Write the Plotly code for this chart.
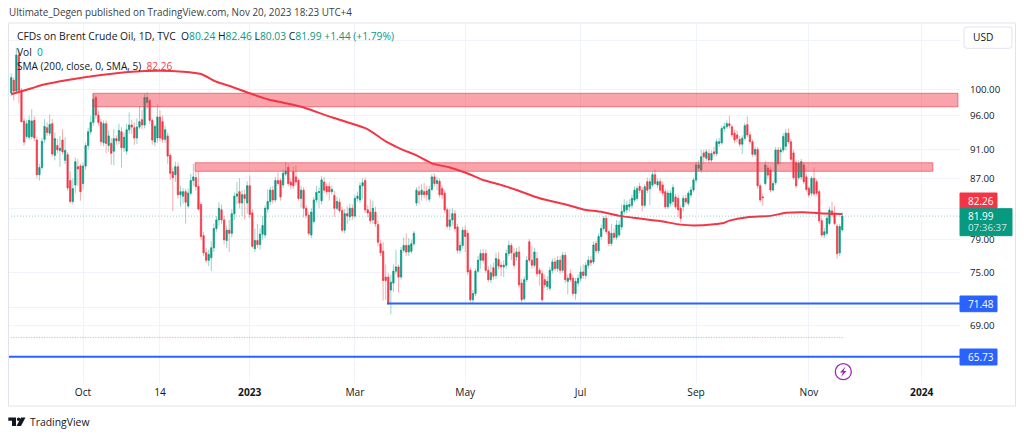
import plotly.graph_objects as go

# daily Brent bars, one value per business day from late Aug 2022
opens = [99.5,101.5,99.8,105.6,99.9,95.2,92.9,92.8,92.9,95.3,
92.4,87.5,88.5,92.5,94.2,93.4,94.8,90.2,91.6,90.9,
92.4,89.5,90.3,86.7,83.9,86.1,88.6,88.7,86.3,88.7,
91.6,93.6,95,98.8,96.1,95,92,94.8,91.6,91.9,
90.8,92.6,92.3,93.6,91.3,90.8,93.9,94.6,94.2,92.7,
94.3,95.4,94.6,98,98.3,95.3,92.1,92.7,95.8,95.1,
92.5,93,90.2,87.9,87.5,88.6,84.8,84.6,85.2,83.3,
85,86.7,87.1,85.9,83.5,79.5,77.4,76.5,76.8,78,
80.4,81.5,82.8,81.5,78.9,80.2,79.8,82.3,84.6,85.2,
83.7,84.8,83.7,86,82.4,77.9,78.9,78.4,79.7,79.6,
82.9,83.9,85.4,84.1,86.7,86.7,86.1,87.6,88.5,86.5,
87.9,87.2,86.7,84.3,85.4,83,82.1,79.6,81.3,84.1,
85.1,84,86.5,85.9,85.9,85.2,84.7,83,83.8,82.7,
80.2,82.3,81.9,83,82,84.3,84.1,86,86.7,82.8,
82.5,81.5,82.5,80.9,78.5,77.6,74.5,74.5,73,73.8,
75.2,75.7,74.5,77.7,78.3,77.5,77.6,78.5,83.7,85.2,
84.8,85.2,85.3,84.2,85.5,87.2,86.3,86.6,85.6,85,
82.8,80.7,81.5,82.3,80.6,77.7,78.3,80.2,79.8,75.3,
71.9,72.6,75.2,76.5,77.3,77.3,75.3,74.2,75.6,74.7,
76.6,75.9,75.7,75.9,77.3,78.3,77.3,76.9,77.5,73.8,
72,74.2,78.75,76.5,75.9,76.7,75.3,74.9,74.2,73.4,
73.2,75.3,76.3,75.5,76.5,75.3,77.1,74,74.9,74.35,
72.6,73.8,74.35,75.1,74.7,75.9,76.5,76.3,78.55,77.65,
79.4,80.4,81.7,80,78.55,79.8,79.3,79.6,80.6,82.6,
82.8,83.2,83.4,84.1,84.3,85.9,85.4,83.4,86.55,85.6,
86.1,87.5,86.1,86.55,86.1,85.2,83.2,83.65,83.9,84.5,
84.3,83,83.2,84.3,83.65,84.75,85.42,86.77,88.4,88.15,
90.55,89.8,90.45,89.54,90.7,90.45,91.9,92,94.1,94.35,
94.8,94.35,93.4,93.15,92.5,91.8,92.65,94.65,93.15,92.15,
90.35,91.05,86,84.5,86.3,88.4,88.15,85.42,86.4,90.96,
90.7,90.96,91.5,93.4,92.15,90.55,89.15,87.1,87.2,88.85,
87.2,85.65,85,87,86.55,85.2,81.4,79.6,79.8,81.05,
82.65,82.35,80.7,77.4,80.24]
highs = [102.6,102,106.8,106.5,100.3,95.6,95.4,96,97,95.9,
92.9,89,92.7,95.5,95,96.2,95.5,93.5,92.6,93,
94,92.8,90.7,88,87,89.9,89.7,89,89.2,92,
94.2,96,99.4,99.1,96.8,95.5,95.3,95.3,93.9,92.7,
94,93.1,94.8,94.3,93.5,94.8,96.5,95.4,95,95.6,
97.5,96.9,99.4,99.6,98.6,95.6,94.7,97.7,96.8,96,
94.5,93.5,90.5,88.5,89.3,89.2,86,85.7,85.6,85.6,
87.6,89,88,88,83.8,80,78,77.8,78.8,81,
82,83.8,83.5,82,80.8,81.5,82.9,85.1,86.5,87,
85.4,85.5,86.6,87.4,82.9,80.4,81,80.4,82,83.4,
85.5,85.9,86,87.2,87.8,87,88.2,89.3,89,87,
88.6,88.8,87,86,85.8,83.4,82.5,83,84.5,86,
85.8,87.3,87.2,86.3,86.5,86,85.3,84.5,84.3,83.2,
82.9,83.3,83.6,83.5,84.8,85.2,86.5,87,87.1,83.4,
84.2,84,83.2,81.4,79,78.7,76,75,74.7,76,
77.8,76,78.1,79.3,79.8,79.2,79,80.1,85.8,86,
86.2,86.4,86,86,87.6,87.7,87.2,87,86,85.4,
83.1,82.9,83,82.8,81,78.8,80.6,80.8,80.2,75.6,
73,75.5,77,77.8,77.9,77.8,75.8,76,76.2,77.4,
77.5,76.3,76.5,77.8,78.9,78.6,78,78,78.2,74.3,
74.6,77,79.1,78.2,78,77.5,75.6,75.3,74.8,74.6,
75.7,76.7,76.8,77,77,77.5,77.5,74.8,75.4,74.8,
74.4,74.8,75.8,76,76.3,77,77,78.8,78.9,79.8,
80.9,82,82.1,80.3,81,80.4,81.5,81.4,83.5,84.2,
84,84.2,84.8,85.9,86,86.4,85.8,86.2,87.1,87,
87.9,88.2,87,87,86.6,85.6,85.4,85.4,86.2,84.9,
84.8,83.4,84.7,84.8,85.3,85.9,87.1,89.3,89.5,91,
91,91.1,91,90.9,91.4,92.6,92.7,94.5,95,95.3,
96,94.7,93.9,93.8,93,93.1,94.9,95.9,93.6,92.5,
91.5,91.4,86.3,85,89.4,88.8,88.6,86.7,91.4,91.4,
91.4,93.4,94,94.1,92.6,91,89.5,89.5,89.7,89.2,
87.6,86,87.3,88.5,86.9,85.5,81.8,80.5,82.1,83.2,
83.9,83.3,81,81,82.46]
lows = [99,98.3,99.3,97.9,95,91.6,92.6,92.4,92.5,92.2,
87,86.7,88.2,92,93,93,90,89.5,90.5,88.6,
90.3,89,85.3,83.6,83.5,85,86,84,85.5,88.2,
91,93.2,94.5,95.5,94.5,91.6,91.5,90.5,90.7,88.9,
88.8,91.7,91.8,88.5,90.7,90.3,93.3,93.3,91.7,91.8,
94,94,94.1,97,94.8,91.7,91.5,92,92.2,92,
92,89,86.8,82.6,86.5,84.3,83.2,83.6,81,83,
84.7,86,85.3,82.7,79,77,76.2,75.8,75.2,77.5,
80,80.8,81,78.4,78,77.5,79.3,81.5,83.5,83,
82,81.6,82.3,81.7,78,77.5,78,77.8,79,79.2,
82.4,83.4,83.6,83.8,86,84,85.7,87.3,85.9,85.5,
85.6,86,84,83.1,81.8,81.7,79.5,79.2,81,83.7,
83,83.5,85,84.8,84,84.8,81.9,82.7,82.4,79.9,
79.8,81,81.4,81.5,81.7,83.9,83.7,84.2,82.4,81.8,
81,81,80.6,78.2,77,71.8,71.9,71.3,70.3,72.8,
74.8,72.7,74.2,77.4,77,77,77.3,78.2,83.3,83.5,
84,84.3,84,83.8,85.3,85.9,85.4,84.4,84.2,82.4,
80.4,80.2,80.8,80,77.3,77.3,77.9,77.5,74.7,71.6,
71.5,72.3,75,75.5,76.1,75,73.9,73.8,74.2,74.3,
75.4,74.6,74.5,75.5,77,76.5,75.5,76.4,73.3,71.6,
71.8,73.9,76.2,75.5,75.6,74.5,73.5,71.6,73.2,73,
72.9,74.9,75.2,75.1,74.9,75,73.8,72.5,73.9,72.3,
71.9,73.4,74,74.3,74.3,75.5,75.8,76,77.3,77.3,
79,80.1,79.7,78.2,78.2,79,79,79.3,80.2,82.2,
82.4,82.6,83,83.8,84,85,82.6,83.1,85,83.4,
85.8,86,85.7,85,84.6,82.9,82.9,83.2,83.4,82.9,
81.9,81.2,82.6,83.5,83.3,84.4,85.1,86.4,88,87.8,
89.1,89.4,89.2,89.2,90,90.1,91.4,91.7,93.6,94,
94.1,92.8,92,92.1,91.4,90.4,92.3,92.8,91.8,90,
90,85.6,83.8,83.3,86,87,85.1,85.2,86.1,88.8,
89,90.6,90.9,91.8,89.3,86.8,85.7,86.8,86.8,86.2,
85.1,84.4,84.6,84.6,84.7,81,79.3,79.2,79.5,80.8,
81.8,80.8,76.7,77,80.03]
closes = [101.9,99.8,105.6,99.9,95.1,92.1,94.8,95.3,95.2,92.7,
87.5,88.5,92.2,94.4,93.5,94.7,90.4,92.6,91,91.2,
90.7,90.9,85.7,83.9,85.6,89.3,88.3,85.2,88.7,91.6,
93.6,95,98.5,96.1,95,92.2,94.8,91.9,93,90.5,
92.6,92.3,93.8,91.3,92.8,93.9,94.6,94.3,92.7,94.3,
95.1,94.6,98.8,98.8,95.3,92.4,94.4,95.8,92.7,92.5,
93.9,90.1,87.7,87.1,88.6,84.8,85.2,85.2,83.8,85,
86.7,87.2,85.9,82.9,79.4,77.4,76.5,77.2,78,80.4,
81.5,83,81.5,79,80.2,79.8,82.3,84.6,84.9,83.7,
84.8,84.3,86,82.2,78.2,78.9,78.4,79.7,80.8,83,
83.9,85.4,84.1,86.7,86.3,84.5,87.7,88,86.3,86.1,
86,86.5,84.3,85.4,83,82.1,79.8,82.5,84.1,85.1,
85.2,86.8,85.4,85.2,85.2,85.5,83,83.9,82.7,80.2,
82.3,82,83,82,84.3,84.6,86,86.4,82.8,82.4,
81.4,83,81,78.7,77.4,74.1,74.1,71.5,73.9,75.2,
75.7,74.5,77.7,78.3,77.5,78.3,78.5,79.8,85.4,84.8,
85.4,84.8,84.8,85.5,87.2,86.3,86.7,84.8,84.8,82.8,
80.7,81.5,82.3,80.4,77.7,78.3,80.2,79.4,75.1,71.9,
72.6,75.2,76.5,77.3,76.5,75.3,74.2,75,74.6,76.7,
75.8,75.7,75.9,77.3,78.3,77.4,75.9,77.5,73.6,71.9,
74.2,76.5,76.5,75.9,77.5,74.9,74.9,71.9,73.6,74,
75.3,76.3,75.5,76.5,75.3,77.1,74.2,74.35,74.2,72.6,
74,74.35,75.1,74.7,75.9,76.5,76.2,78.35,77.65,79.4,
80.4,81.7,80,78.55,79.8,79.3,80.85,80.85,82.6,83.4,
83.4,83.5,84.3,85.4,85.6,85.4,83.4,85.85,85.4,86.55,
87.5,86.3,86.55,85.4,85,83.2,85,85,85.75,83.2,
82.8,81.7,84.3,83.85,85,85.42,86.77,88.85,88.85,90,
90,90.7,89.54,90.45,90.45,92.15,92.15,94.1,94.35,94.8,
94.5,93.15,92.4,92.65,91.8,92.65,94.5,93.15,92.15,90.35,
91.05,86,84.09,84.4,88.85,87.45,85.42,86.3,90.96,89.05,
90.96,92.9,93.4,92.15,89.65,87.1,86,89.05,89.3,86.55,
85.5,84.75,87,84.9,85,81.4,79.6,80,81.7,82.78,
82.15,81.05,77.3,80.65,81.99]

# 200 day average, as vertices along the curve
sma_bars = [0,8,12,22,35,47,58,67,74,80,86,93,100,106,113,125,139,146,152,158,164,171,178,184,191,197,206,217,223,230,237,245,253,261,266,274,278,280,287,296,302,309,315,324]
sma_vals = [99.28,100.22,100.74,101.54,102.34,102.87,103.03,102.87,102.5,101.26,100.47,99.44,98.5,97.98,97.36,95.76,93.97,92.2,91.1,90.2,89.08,88.5,87.66,86.77,86.1,85.42,84.32,83.43,82.85,82.54,82.02,81.68,81.35,80.9,80.8,80.95,81.15,81.41,81.85,82.02,82.41,82.5,82.36,82.26]

tick_bars = [28,58,93,134,177,222,267,311,355]
tick_names = ["Oct","14","<b>2023</b>","Mar","May","Jul","Sep","Nov","<b>2024</b>"]
# 108, 83 and 71 sit behind the button and the price boxes, only their grid lines show
price_ticks = [108,100,96,91,87,83,79,75,71,69]
price_names = ["","100.00","96.00","91.00","87.00","","79.00","75.00","","69.00"]

zone_top = [99.44,89.16]
zone_bottom = [97.36,87.97]
zone_start = [31.9,71.7]
zone_end = [369.1,359.3]
support_levels = [71.48,65.73]
support_start = [146.5,-1.25]
last_close = 81.99
vol_floor = 67.76

GREEN = "#089981"
RED = "#F23645"
BLUE = "#2962FF"
FONT = "Open Sans"
X_RANGE = [-1.25, 369.9]

bars = list(range(len(closes)))
assert len(opens) == len(highs) == len(lows) == len(closes) == 325


# overlay items are placed in page pixels, converted to paper fractions
def pxx(x):
    return (x - 8) / 952

def pxy(y):
    return (383 - y) / 360


fig = go.Figure()

# wicks, pale
fig.add_trace(go.Candlestick(x=bars, open=opens, high=highs, low=lows, close=closes,
    increasing=dict(line=dict(color="rgba(8,153,129,0.42)", width=1), fillcolor="rgba(0,0,0,0)"),
    decreasing=dict(line=dict(color="rgba(242,54,69,0.42)", width=1), fillcolor="rgba(0,0,0,0)"),
    whiskerwidth=0, hoverinfo="skip"))
# bodies, solid
fig.add_trace(go.Candlestick(x=bars, open=opens, close=closes,
    high=[max(a, b) for a, b in zip(opens, closes)],
    low=[min(a, b) for a, b in zip(opens, closes)],
    increasing=dict(line=dict(color=GREEN, width=0.5), fillcolor=GREEN),
    decreasing=dict(line=dict(color=RED, width=0.5), fillcolor=RED),
    whiskerwidth=0, hoverinfo="skip"))

fig.add_trace(go.Scatter(x=sma_bars, y=sma_vals, mode="lines", line=dict(color=RED, width=2, shape="spline", smoothing=0.6), hoverinfo="skip"))

# volume strip, all zero so it reads as a dotted row
fig.add_trace(go.Scatter(x=bars, y=[vol_floor] * len(bars), mode="markers", hoverinfo="skip",
    marker=dict(size=1.5, line_width=0, opacity=0.35,
                color=[GREEN if c >= o else RED for o, c in zip(opens, closes)])))

fig.add_trace(go.Scatter(x=X_RANGE, y=[last_close, last_close], mode="lines",
    line=dict(color="rgba(8,153,129,0.45)", width=1, dash="1px,2px"), hoverinfo="skip"))

for level, start in zip(support_levels, support_start):
    fig.add_trace(go.Scatter(x=[start, X_RANGE[1]], y=[level, level], mode="lines",
        line=dict(color=BLUE, width=2), hoverinfo="skip"))

for top, bottom, start, end in zip(zone_top, zone_bottom, zone_start, zone_end):
    fig.add_shape(type="rect", x0=start, x1=end, y0=bottom, y1=top, xref="x", yref="y",
        fillcolor="rgba(242,54,69,0.45)", line=dict(color="rgba(242,54,69,0.6)", width=1))

# frame
fig.add_shape(type="rect", xref="paper", yref="paper", x0=pxx(8.5), x1=pxx(1015.5), y0=pxy(406), y1=pxy(23),
    line=dict(color="#e0e3eb", width=1))

# price labels on the right
label_boxes = [(960,997,193,208.7,RED), (960,1012,208.7,235.7,GREEN), (960,997,296,311.7,BLUE), (960,997,349,365,BLUE)]
for x0, x1, y0, y1, col in label_boxes:
    fig.add_shape(type="rect", xref="paper", yref="paper", x0=pxx(x0), x1=pxx(x1), y0=pxy(y1), y1=pxy(y0),
        fillcolor=col, line=dict(color=col, width=1))


def label(x, y, text, size=10.2, color="#131722", anchor="left"):
    fig.add_annotation(xref="paper", yref="paper", x=pxx(x), y=pxy(y), text=text, showarrow=False,
        xanchor=anchor, yanchor="middle", font=dict(family=FONT, size=size, color=color), borderpad=0)


label(967, 201, "82.26", size=10, color="white")
label(967, 215.5, "81.99", size=10, color="white")
label(967, 227, "07:36:37", size=9.8, color="rgba(255,255,255,0.8)")
label(967, 304, "71.48", size=10, color="white")
label(967, 357, "65.73", size=10, color="white")

# USD button with round corners
bx0, bx1, by0, by1, r = 964, 1012, 27, 48.3, 3
usd_path = (f"M {pxx(bx0+r)},{pxy(by0)} L {pxx(bx1-r)},{pxy(by0)} Q {pxx(bx1)},{pxy(by0)} {pxx(bx1)},{pxy(by0+r)} "
            f"L {pxx(bx1)},{pxy(by1-r)} Q {pxx(bx1)},{pxy(by1)} {pxx(bx1-r)},{pxy(by1)} "
            f"L {pxx(bx0+r)},{pxy(by1)} Q {pxx(bx0)},{pxy(by1)} {pxx(bx0)},{pxy(by1-r)} "
            f"L {pxx(bx0)},{pxy(by0+r)} Q {pxx(bx0)},{pxy(by0)} {pxx(bx0+r)},{pxy(by0)} Z")
fig.add_shape(type="path", xref="paper", yref="paper", path=usd_path, fillcolor="white", line=dict(color="#e0e3eb", width=1))
label(972, 37.5, "USD")

# legend rows
green_span = '<span style="color:#089981">'
label(8, 12, "Ultimate_Degen published on TradingView.com, Nov 20, 2023 18:23 UTC+4", size=9.9, color="#3c4043")
label(16, 36.5, f"CFDs on Brent Crude Oil, 1D, TVC  O{green_span}80.24</span> H{green_span}82.46</span> L{green_span}80.03</span> "
                f"C{green_span}81.99</span> {green_span}+1.44 (+1.79%)</span>", size=10.3, color="#131722")
label(16, 51.5, f"Vol  {green_span}0</span>")
label(16, 65.5, 'SMA (200, close, 0, SMA, 5)  <span style="color:#F23645">82.26</span>', size=10.1)

# lightning marker
cx, cy, rad = 843.3, 371.7, 8
fig.add_shape(type="circle", xref="paper", yref="paper", x0=pxx(cx-rad), x1=pxx(cx+rad), y0=pxy(cy+rad), y1=pxy(cy-rad),
    fillcolor="white", line=dict(color="#9C27B0", width=1.3))
bolt = [(845.5,366.5),(840,372.5),(843,372.5),(841,377),(846.5,371),(843.5,371)]
fig.add_shape(type="path", xref="paper", yref="paper", fillcolor="#9C27B0", line_width=0,
    path="M " + " L ".join(f"{pxx(a)},{pxy(b)}" for a, b in bolt) + " Z")

# TradingView logo
logo_parts = [[(8.3,417.5),(16,417.5),(16,426),(12,426),(12,420.8),(8.3,420.8)],
              [(21,417.5),(25.5,417.5),(21,426),(16.5,426)]]
for part in logo_parts:
    fig.add_shape(type="path", xref="paper", yref="paper", fillcolor="#131722", line_width=0,
        path="M " + " L ".join(f"{pxx(a)},{pxy(b)}" for a, b in part) + " Z")
fig.add_shape(type="circle", xref="paper", yref="paper", x0=pxx(16.8), x1=pxx(20.3), y0=pxy(421), y1=pxy(417.5),
    fillcolor="#131722", line_width=0)
label(29, 422, "TradingView", size=10.4, color="#131722")

fig.update_layout(width=1024, height=437, margin=dict(l=8, r=64, t=23, b=54), showlegend=False,
    paper_bgcolor="white", plot_bgcolor="white", font=dict(family=FONT, size=10.2, color="#131722"),
    xaxis=dict(range=X_RANGE, rangeslider_visible=False, tickmode="array", tickvals=tick_bars, ticktext=tick_names,
               showgrid=True, gridcolor="#f0f3fa", gridwidth=1, zeroline=False, showline=False, ticks="", ticklen=0,
               ticklabelstandoff=2),
    yaxis=dict(type="log", side="right", range=[1.79989, 2.04552], tickmode="array", tickvals=price_ticks, ticktext=price_names,
               showgrid=True, gridcolor="#f0f3fa", gridwidth=1, zeroline=False, showline=False, tickfont=dict(size=9.7),
               ticks="outside", ticklen=7, tickcolor="rgba(0,0,0,0)"))

# the page's default 8px body margin would push the figure off its window
fig.write_html("out.html", config={"displayModeBar": False}, post_script="document.body.style.margin='0'")
